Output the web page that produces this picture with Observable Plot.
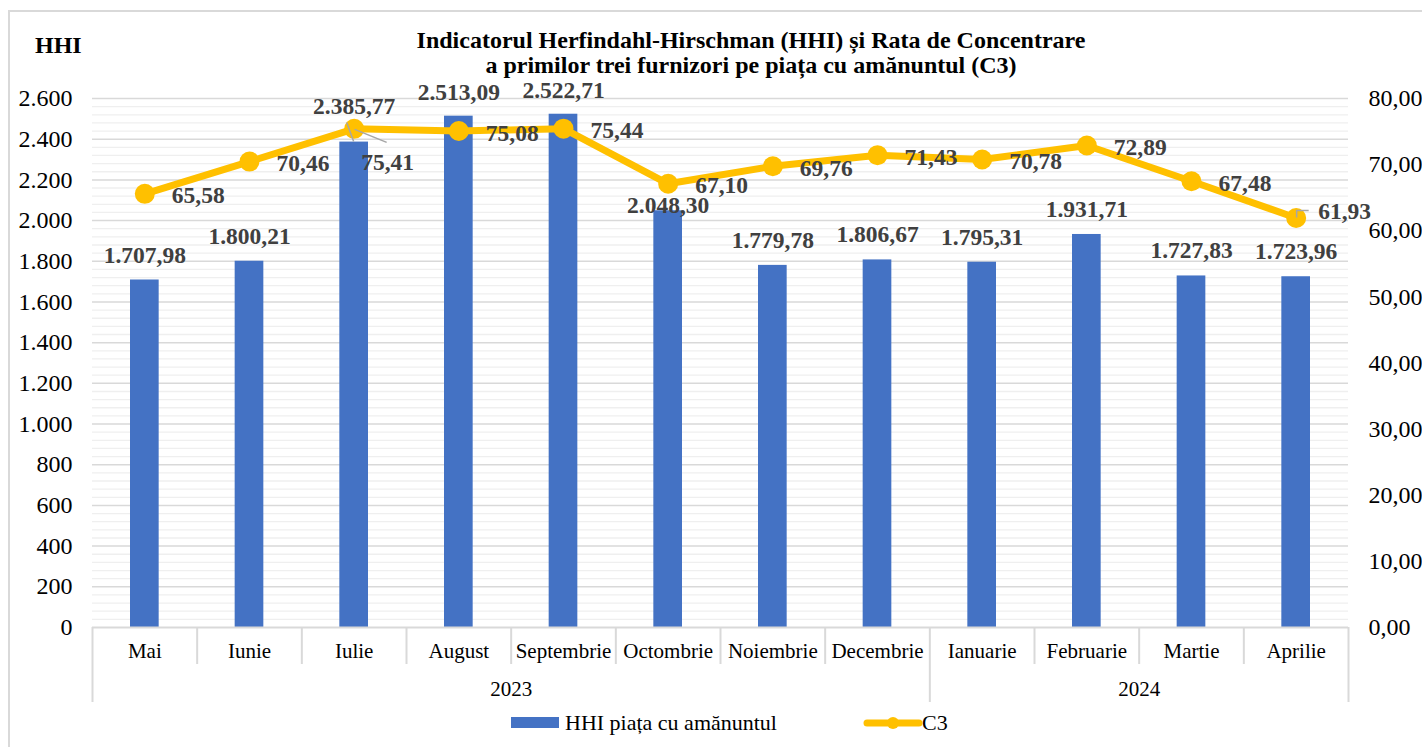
<!DOCTYPE html>
<html>
<head>
<meta charset="utf-8">
<script src="https://cdn.jsdelivr.net/npm/d3@7"></script>
<script src="https://cdn.jsdelivr.net/npm/@observablehq/plot@0.6"></script>
<style>
  body { margin: 0; background: #fff; font-family: "Liberation Serif", "Times New Roman", serif; }
  #wrap { position: relative; width: 1422px; height: 747px; overflow: hidden; background: #fff; }
  #border { position: absolute; left: 8px; top: 10px; width: 1430px; height: 760px; border: 2px solid #d9d9d9; box-sizing: border-box; }
  #chart { position: absolute; left: 0; top: 0; }
  .title { position: absolute; left: 251px; width: 1000px; text-align: center; font-family: "Liberation Serif", serif; font-weight: bold; font-size: 24px; line-height: 24px; color: #000; white-space: nowrap; }
  #hhiLabel { position: absolute; left: 35px; top: 33px; font-family: "Liberation Serif", serif; font-weight: bold; font-size: 24px; line-height: 24px; color: #000; }
  .leg { position: absolute; font-family: "Liberation Serif", serif; font-size: 22px; line-height: 24px; color: #000; white-space: nowrap; }
</style>
</head>
<body>
<div id="wrap">
  <div id="border"></div>
  <div id="chart"></div>
  <div class="title" style="top:28px">Indicatorul Herfindahl-Hirschman (HHI) și Rata de Concentrare</div>
  <div class="title" style="top:53px">a primilor trei furnizori pe piața cu amănuntul (C3)</div>
  <div id="hhiLabel">HHI</div>
  <div id="legend"></div>
</div>
<script>
// ---- data ----
const months = ["Mai","Iunie","Iulie","August","Septembrie","Octombrie","Noiembrie","Decembrie","Ianuarie","Februarie","Martie","Aprilie"];
const monthYears = ["2023","2023","2023","2023","2023","2023","2023","2023","2024","2024","2024","2024"];
const hhiValues = [1707.98, 1800.21, 2385.77, 2513.09, 2522.71, 2048.30, 1779.78, 1806.67, 1795.31, 1931.71, 1727.83, 1723.96];
const c3Values = [65.58, 70.46, 75.41, 75.08, 75.44, 67.10, 69.76, 71.43, 70.78, 72.89, 67.48, 61.93];
const hhiTicks = [0, 200, 400, 600, 800, 1000, 1200, 1400, 1600, 1800, 2000, 2200, 2400, 2600];
const c3Ticks = [0, 10, 20, 30, 40, 50, 60, 70, 80];
const seriesNames = ["HHI piața cu amănuntul", "C3"];

// ---- derived ----
const k = hhiTicks[hhiTicks.length - 1] / c3Ticks[c3Ticks.length - 1]; // secondary axis factor
const rows = months.map((m, i) => ({i, month: m, year: monthYears[i], hhi: hhiValues[i], c3: c3Values[i]}));
const yearGroups = Array.from(d3.group(rows, d => d.year), ([year, rs]) => ({
  year, first: d3.min(rs, d => d.i), last: d3.max(rs, d => d.i)
}));
const boundaries = d3.range(months.length + 1).map(i => i - 0.5);
const longBounds = boundaries.filter(b => b === -0.5 || yearGroups.some(g => g.last + 0.5 === b));
const shortBounds = boundaries.filter(b => !longBounds.includes(b));
const minorTicks = d3.range(0, 2601, 40).filter(v => v % 200 !== 0);

const loc = d3.formatLocale({decimal: ",", thousands: ".", grouping: [3], currency: ["", ""]});
const f0 = loc.format(",.0f");
const f2 = loc.format(",.2f");

const BLUE = "#4472C4", GOLD = "#FFC000", LAB = "#404040", GRID = "#d9d9d9";

const leaders = (index, scales) => {
  const g = d3.create("svg:g").attr("stroke", "#a6a6a6").attr("stroke-width", 1.5).attr("fill", "none");
  const ji = months.indexOf("Iulie");
  const xi = scales.x(ji), yb = scales.y(hhiValues[ji]), yc = scales.y(c3Values[ji] * k);
  g.append("line").attr("x1", xi - 7).attr("y1", yb - 19).attr("x2", xi).attr("y2", yb);
  g.append("line").attr("x1", xi + 1).attr("y1", yc + 1).attr("x2", xi + 33).attr("y2", yc + 14);
  const ai = months.indexOf("Aprilie");
  const xa = scales.x(ai), ya = scales.y(c3Values[ai] * k);
  g.append("path").attr("d", `M${xa + 1},${ya} V${ya - 7} H${xa + 13}`);
  return g.node();
};

const hhiLab = {x: "i", y: "hhi", text: d => f2(d.hhi), fontSize: 23.5, fontWeight: "bold", fill: LAB};
const c3Lab = {x: "i", y: d => d.c3 * k, text: d => f2(d.c3), fontSize: 23.5, fontWeight: "bold", fill: LAB, textAnchor: "start"};

const chart = Plot.plot({
  width: 1422,
  height: 747,
  marginLeft: 92,
  marginRight: 74,
  marginTop: 98,
  marginBottom: 120,
  style: {fontFamily: "Liberation Serif, Times New Roman, serif", background: "transparent", overflow: "visible", color: "#000"},
  x: {type: "linear", domain: [-0.5, months.length - 0.5], axis: null},
  y: {domain: [0, hhiTicks[hhiTicks.length - 1]]},
  marks: [
    Plot.ruleY(minorTicks, {stroke: "#efefef", strokeWidth: 1.3}),
    Plot.ruleY(hhiTicks.filter(t => t > 0), {stroke: GRID, strokeWidth: 1.5}),
    Plot.axisY(hhiTicks, {anchor: "left", tickSize: 0, tickPadding: 20, tickFormat: f0, fontSize: 24, label: null}),
    Plot.axisY(c3Ticks.map(v => v * k), {anchor: "right", tickSize: 0, tickPadding: 20, tickFormat: d => f2(d / k), fontSize: 24, label: null}),
    Plot.rectY(rows, {x1: d => d.i - 0.5, x2: d => d.i + 0.5, y: "hhi", insetLeft: 38, insetRight: 38, fill: BLUE}),
    Plot.ruleY([0], {stroke: GRID, strokeWidth: 2}),
    Plot.ruleX(shortBounds, {x: d => d, y1: () => 0, y2: () => 0, insetBottom: -37, stroke: GRID, strokeWidth: 2}),
    Plot.ruleX(longBounds, {x: d => d, y1: () => 0, y2: () => 0, insetBottom: -75, stroke: GRID, strokeWidth: 2}),
    Plot.text(rows, {x: "i", y: () => 0, text: "month", dy: 24, fontSize: 21, fill: "#000"}),
    Plot.text(yearGroups, {x: g => (g.first + g.last) / 2, y: () => 0, text: "year", dy: 62, fontSize: 21, fill: "#000"}),
    Plot.line(rows, {x: "i", y: d => d.c3 * k, stroke: GOLD, strokeWidth: 7, strokeLinejoin: "round"}),
    Plot.dot(rows, {x: "i", y: d => d.c3 * k, r: 10, fill: GOLD, stroke: "none"}),
    leaders,
    Plot.text(rows.filter(d => !["Iulie", "Octombrie", "August", "Septembrie"].includes(d.month)), {...hhiLab, dy: -25}),
    Plot.text(rows.filter(d => ["August", "Septembrie"].includes(d.month)), {...hhiLab, dy: -24}),
    Plot.text(rows.filter(d => d.month === "Iulie"), {...hhiLab, dy: -36}),
    Plot.text(rows.filter(d => d.month === "Octombrie"), {...hhiLab, dy: -5}),
    Plot.text(rows.filter(d => !["Iulie", "Aprilie"].includes(d.month)), {...c3Lab, dx: 27, dy: 2}),
    Plot.text(rows.filter(d => d.month === "Iulie"), {...c3Lab, dx: 7, dy: 34}),
    Plot.text(rows.filter(d => d.month === "Aprilie"), {...c3Lab, dx: 22, dy: -7})
  ]
});
document.getElementById("chart").appendChild(chart);

// legend
const legend = document.getElementById("legend");
legend.innerHTML = `
  <div style="position:absolute;left:511px;top:717px;width:48px;height:11px;background:${BLUE}"></div>
  <div class="leg" style="left:565px;top:711px">${seriesNames[0]}</div>
  <svg style="position:absolute;left:860px;top:713px" width="66" height="20">
    <line x1="7" y1="10" x2="59" y2="10" stroke="${GOLD}" stroke-width="7" stroke-linecap="round"/>
    <circle cx="33" cy="10" r="6" fill="${GOLD}"/>
  </svg>
  <div class="leg" style="left:922px;top:711px">${seriesNames[1]}</div>`;
</script>
</body>
</html>
